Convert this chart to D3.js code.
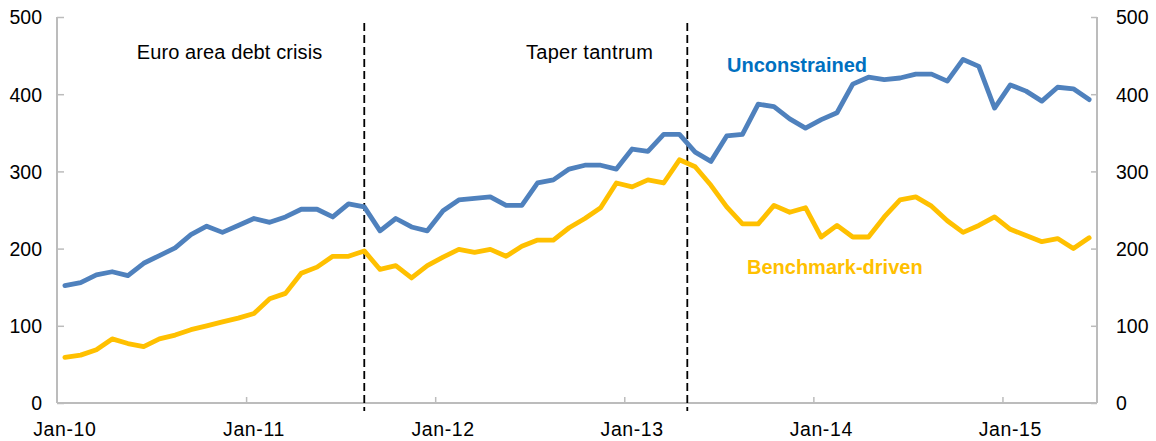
<!DOCTYPE html>
<html>
<head>
<meta charset="utf-8">
<script src="https://cdn.jsdelivr.net/npm/d3@7"></script>
<style>
  body { margin: 0; background: #fff; }
  text { font-family: "Liberation Sans", Arial, sans-serif; }
</style>
</head>
<body>
<div id="chart"></div>
<script>
// monthly, Jan-2010 .. Jun-2015
const unconstrained = [
  152, 156, 166, 170, 165, 181, 191, 201, 218, 229, 221, 230,
  239, 234, 241, 251, 251, 241, 258, 254, 223, 239, 228, 223,
  249, 263, 265, 267, 256, 256, 285, 289, 303, 308, 308, 303,
  329, 326, 348, 348, 325, 313, 346, 348, 387, 384, 368, 356,
  367, 376, 413, 422, 419, 421, 426, 426, 417, 445, 436, 382,
  412, 404, 391, 409, 407, 393
];
const benchmark = [
  59, 62, 69, 83, 77, 73, 83, 88, 95, 100, 105, 110,
  116, 135, 142, 168, 176, 190, 190, 197, 173, 178, 162, 178,
  189, 199, 195, 199, 190, 203, 211, 211, 227, 239, 253, 285,
  280, 289, 285, 315, 306, 282, 254, 232, 232, 256, 247, 253,
  215, 230, 215, 215, 241, 263, 267, 255, 236, 221, 230, 241,
  225, 217, 209, 213, 200, 214
];
const xTickLabels = ["Jan-10", "Jan-11", "Jan-12", "Jan-13", "Jan-14", "Jan-15"];
const yTicks = [0, 100, 200, 300, 400, 500];
// events: month offset from Jan-10
const events = [
  { name: "Euro area debt crisis", at: 19.5, labelAt: 10.95, spacing: 0.1 },
  { name: "Taper tantrum", at: 40, labelAt: 33.8, spacing: 0.3 }
];

const width = 1156, height = 441;
const mLeft = 57, mRight = 1097, mTop = 17, mBottom = 403;

const svg = d3.select("#chart").append("svg")
  .attr("width", width).attr("height", height);

const x = d3.scaleLinear().domain([0, unconstrained.length]).range([mLeft, mRight]);
const y = d3.scaleLinear().domain([0, 500]).range([mBottom, mTop]);

const axisColor = "#bcbcbc";

// y axes
const yLeft = svg.append("g").attr("transform", `translate(${mLeft},0)`)
  .call(d3.axisRight(y).tickValues(yTicks).tickSize(7).tickFormat(""));
const yRight = svg.append("g").attr("transform", `translate(${mRight},0)`)
  .call(d3.axisLeft(y).tickValues(yTicks).tickSize(6).tickFormat(""));
[yLeft, yRight].forEach(g => {
  g.select(".domain").remove();
  g.selectAll("line").attr("stroke", axisColor).attr("stroke-width", 1.5);
});
svg.append("line").attr("x1", mLeft).attr("x2", mLeft).attr("y1", y(500)).attr("y2", y(0))
  .attr("stroke", axisColor).attr("stroke-width", 2);
svg.append("line").attr("x1", mRight).attr("x2", mRight).attr("y1", y(500)).attr("y2", y(0))
  .attr("stroke", axisColor).attr("stroke-width", 2);

svg.selectAll(".ylabL").data(yTicks).enter().append("text")
  .attr("x", 42).attr("y", d => y(d)).attr("dy", "0.38em")
  .attr("text-anchor", "end").attr("font-size", 19.5).text(d => d);
svg.selectAll(".ylabR").data(yTicks).enter().append("text")
  .attr("x", 1116).attr("y", d => y(d)).attr("dy", "0.38em")
  .attr("text-anchor", "start").attr("font-size", 19.5).text(d => d);

// x axis
const yearStarts = xTickLabels.map((d, i) => i * 12);
const xAxis = svg.append("g").attr("transform", `translate(0,${mBottom})`)
  .call(d3.axisTop(x).tickValues(yearStarts.slice(1)).tickSize(6).tickFormat(""));
xAxis.select(".domain").remove();
xAxis.selectAll("line").attr("stroke", axisColor).attr("stroke-width", 1.5);
svg.append("line").attr("x1", mLeft).attr("x2", mRight).attr("y1", mBottom).attr("y2", mBottom)
  .attr("stroke", axisColor).attr("stroke-width", 2);

svg.selectAll(".xlab").data(xTickLabels).enter().append("text")
  .attr("x", (d, i) => x(yearStarts[i] + 0.5)).attr("y", 436)
  .attr("text-anchor", "middle").attr("font-size", 19.5)
  .attr("letter-spacing", 0.6).text(d => d);

// event lines
svg.selectAll(".ev").data(events).enter().append("line")
  .attr("x1", d => x(d.at)).attr("x2", d => x(d.at))
  .attr("y1", 23).attr("y2", 411)
  .attr("stroke", "#000").attr("stroke-width", 1.8)
  .attr("stroke-dasharray", "8,4");
svg.selectAll(".evlab").data(events).enter().append("text")
  .attr("x", d => x(d.labelAt)).attr("y", 59)
  .attr("text-anchor", "middle").attr("font-size", 20)
  .attr("letter-spacing", d => d.spacing)
  .attr("fill", "#000").text(d => d.name);

// series
const line = d3.line().x((d, i) => x(i + 0.5)).y(d => y(d));
svg.append("path").datum(benchmark)
  .attr("fill", "none").attr("stroke", "#ffc000").attr("stroke-width", 4.8)
  .attr("stroke-linejoin", "round").attr("stroke-linecap", "round").attr("d", line);
svg.append("path").datum(unconstrained)
  .attr("fill", "none").attr("stroke", "#4f81bd").attr("stroke-width", 4.8)
  .attr("stroke-linejoin", "round").attr("stroke-linecap", "round").attr("d", line);

// series labels
svg.append("text").attr("x", 727).attr("y", 72).attr("font-size", 20)
  .attr("font-weight", "bold").attr("fill", "#0070c0").text("Unconstrained");
svg.append("text").attr("x", 747).attr("y", 274).attr("font-size", 20)
  .attr("font-weight", "bold").attr("fill", "#ffc000").text("Benchmark-driven");
</script>
</body>
</html>
